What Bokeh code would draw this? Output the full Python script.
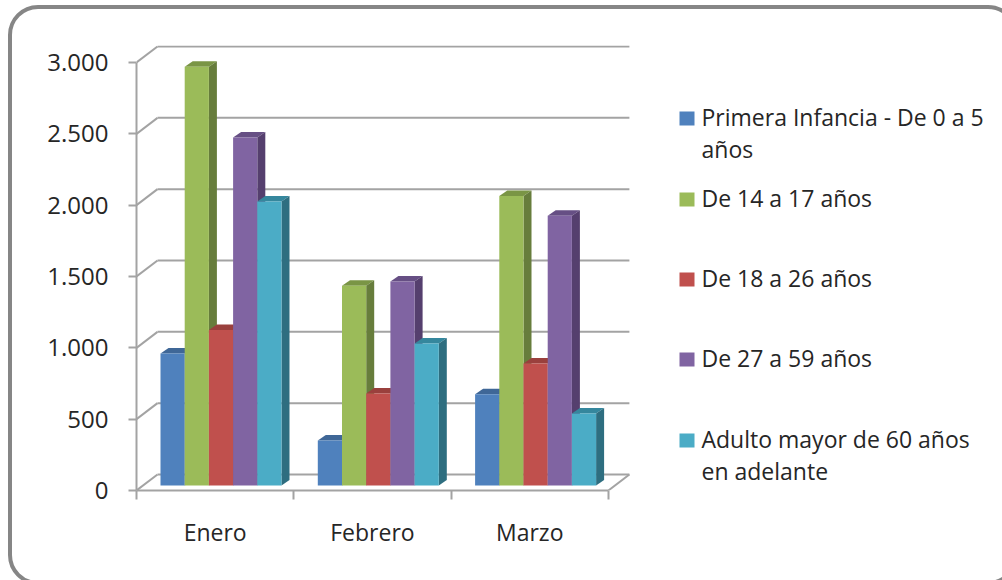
from bokeh.plotting import figure
from bokeh.models import Range1d, FixedTicker, InlineStyleSheet
from bokeh.core.properties import value
from bokeh.embed import file_html
from bokeh.resources import INLINE

categories = ["Enero", "Febrero", "Marzo"]
primera = [925, 315, 640]
de14 = [2936, 1400, 2030]
de18 = [1090, 645, 855]
de27 = [2440, 1430, 1890]
adulto = [1990, 995, 505]
tick_values = [0, 500, 1000, 1500, 2000, 2500, 3000]
tick_labels = ["0", "500", "1.000", "1.500", "2.000", "2.500", "3.000"]
legend_lines = [["Primera Infancia - De 0 a 5", "años"], ["De 14 a 17 años"], ["De 18 a 26 años"],
                ["De 27 a 59 años"], ["Adulto mayor de 60 años", "en adelante"]]
series = [primera, de14, de18, de27, adulto]
front = ["#4F81BD", "#9BBB59", "#C0504D", "#8064A2", "#4BACC6"]
side = ["#365F8F", "#677D3C", "#8C3A38", "#553F6E", "#2E6E80"]
top = ["#3F6797", "#7A9545", "#9A403D", "#664F84", "#35879D"]

W, H = 1002, 580
L, R_, T, B = 136, 1002, 45, 490
XU = 157.3            # px per category
YU = (490 - 62) / 3000  # px per value unit
GRAY = "#A3A3A3"
FONT = "Open Sans"
TXT = "#262626"

def xd(px): return (px - L) / XU
def yd(py): return (B - py) / YU

p = figure(width=W, height=H, output_backend="svg", toolbar_location=None,
           x_range=Range1d(0, (R_ - L) / XU), y_range=Range1d(0, yd(T)),
           min_border_left=L, min_border_right=W - R_, min_border_top=T, min_border_bottom=H - B,
           background_fill_color="white", border_fill_color="white", outline_line_color=None)
p.xgrid.visible = False
p.ygrid.visible = False
p.stylesheets = [InlineStyleSheet(css=""":host::after{content:'';position:absolute;left:8px;top:5px;
width:1010px;height:580px;box-sizing:border-box;border:4.5px solid #868686;border-radius:30px;pointer-events:none;}""")]

# y axis
ya = p.yaxis[0]
ya.ticker = FixedTicker(ticks=tick_values)
ya.major_label_overrides = {v: s for v, s in zip(tick_values, tick_labels)}
ya.bounds = (0, 3000)
ya.axis_line_color = GRAY
ya.axis_line_width = 2
ya.major_tick_line_color = GRAY
ya.major_tick_line_width = 2
ya.major_tick_in = 0
ya.major_tick_out = 8
ya.minor_tick_line_color = None
ya.major_label_standoff = 20
ya.major_label_text_font = FONT
ya.major_label_text_font_size = "24px"
ya.major_label_text_color = TXT

# x axis
centres = [i + 0.5 for i in range(len(categories))]
xa = p.xaxis[0]
xa.ticker = FixedTicker(ticks=centres, minor_ticks=list(range(len(categories) + 1)))
xa.major_label_overrides = {c: s for c, s in zip(centres, categories)}
xa.bounds = (0, 3)
xa.axis_line_color = GRAY
xa.axis_line_width = 2
xa.major_tick_line_color = None
xa.major_tick_out = 0
xa.major_tick_in = 0
xa.minor_tick_line_color = GRAY
xa.minor_tick_line_width = 2
xa.minor_tick_out = 9
xa.minor_tick_in = 0
xa.major_label_standoff = 16
xa.major_label_text_font = FONT
xa.major_label_text_font_size = "23px"
xa.major_label_text_color = TXT

# back wall + floor
dx3, dy3 = 21 / XU, 16 / YU
n = len(categories)
p.segment([dx3] * 7, [v + dy3 for v in tick_values], [n + dx3] * 7, [v + dy3 for v in tick_values],
          line_color=GRAY, line_width=2)
p.segment([0] * 7, tick_values, [dx3] * 7, [v + dy3 for v in tick_values], line_color=GRAY, line_width=2)
p.segment([n], [0], [n + dx3], [dy3], line_color=GRAY, line_width=2)

# bars
gap = 24 / XU
bw = 24.2 / XU
bdx, bdy = 8 / XU, 5.5 / YU
base = 5 / YU
for s, vals in enumerate(series):
    lefts = [c + gap + s * bw for c in range(n)]
    rights = [l + bw for l in lefts]
    tops = [v + base for v in vals]
    p.patches([[l, r, r + bdx, l + bdx] for l, r in zip(lefts, rights)],
              [[t, t, t + bdy, t + bdy] for t in tops], fill_color=top[s], line_color=None)
    p.patches([[r, r + bdx, r + bdx, r] for r in rights],
              [[base, base + bdy, t + bdy, t] for t in tops], fill_color=side[s], line_color=None)
    p.quad(left=lefts, right=rights, bottom=[base] * n, top=tops, fill_color=front[s], line_color=None)

# legend
first_y = [118, 199, 279, 359, 440]
for i, lines in enumerate(legend_lines):
    y0 = first_y[i]
    p.quad(left=[xd(679)], right=[xd(694)], top=[yd(y0 - 7)], bottom=[yd(y0 + 7)], fill_color=front[i], line_color=None)
    p.text([xd(701)] * len(lines), [yd(y0 - 1.5 + j * 32) for j in range(len(lines))], text=lines,
           text_font=value(FONT), text_font_size="23px", text_color=TXT, text_baseline="middle", text_align="left")

open("out.html", "w").write(file_html(p, INLINE))
